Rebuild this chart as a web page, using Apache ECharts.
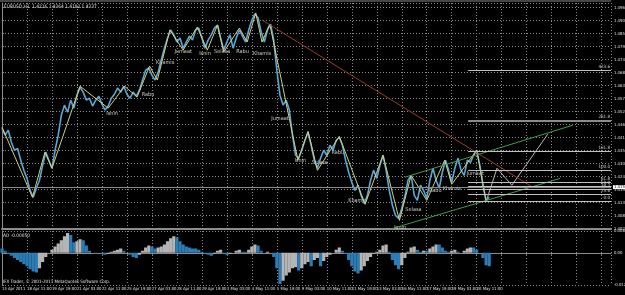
<!DOCTYPE html>
<html>
<head>
<meta charset="utf-8">
<script src="https://cdn.jsdelivr.net/npm/echarts@6/dist/echarts.min.js"></script>
<style>html,body{margin:0;padding:0;background:#000;} #chart{width:625px;height:295px;}</style>
</head>
<body>
<div id="chart"></div>
<script>
// EURUSD H1 - one close read every 4 bars
var closes = [
  1.4449, 1.4420, 1.4441, 1.4390, 1.4356, 1.4364, 1.4314, 1.4271, 1.4237, 1.4186,
  1.4157, 1.4195, 1.4229, 1.4292, 1.4348, 1.4314, 1.4280, 1.4356, 1.4420, 1.4504,
  1.4547, 1.4517, 1.4568, 1.4534, 1.4589, 1.4623, 1.4602, 1.4568, 1.4576, 1.4543,
  1.4568, 1.4585, 1.4551, 1.4526, 1.4543, 1.4576, 1.4593, 1.4619, 1.4602, 1.4627,
  1.4593, 1.4576, 1.4602, 1.4585, 1.4610, 1.4653, 1.4695, 1.4704, 1.4674, 1.4653,
  1.4687, 1.4738, 1.4788, 1.4831, 1.4865, 1.4844, 1.4814, 1.4831, 1.4788, 1.4814,
  1.4839, 1.4822, 1.4865, 1.4873, 1.4831, 1.4788, 1.4822, 1.4844, 1.4873, 1.4886,
  1.4831, 1.4780, 1.4814, 1.4844, 1.4788, 1.4831, 1.4865, 1.4839, 1.4814, 1.4865,
  1.4907, 1.4933, 1.4916, 1.4856, 1.4814, 1.4865, 1.4890, 1.4822, 1.4695, 1.4589,
  1.4547, 1.4568, 1.4526, 1.4420, 1.4335, 1.4322, 1.4356, 1.4398, 1.4432, 1.4377,
  1.4314, 1.4280, 1.4322, 1.4356, 1.4335, 1.4377, 1.4356, 1.4398, 1.4411, 1.4377,
  1.4314, 1.4263, 1.4220, 1.4186, 1.4208, 1.4165, 1.4131, 1.4165, 1.4229, 1.4271,
  1.4237, 1.4292, 1.4335, 1.4271, 1.4186, 1.4123, 1.4080, 1.4068, 1.4110, 1.4161,
  1.4229, 1.4250, 1.4165, 1.4144, 1.4208, 1.4186, 1.4152, 1.4229, 1.4280, 1.4229,
  1.4195, 1.4263, 1.4314, 1.4271, 1.4220, 1.4280, 1.4322, 1.4271, 1.4250, 1.4314,
  1.4305, 1.4335, 1.4356, 1.4292, 1.4208, 1.4144, 1.4157
];

// Awesome Oscillator, same 4-bar steps
var aoValues = [
  0.0017, 0.0008, -0.0004, -0.0012, -0.0021, -0.0029, -0.0037, -0.0046, -0.0054, -0.0066,
  -0.0075, -0.0079, -0.0062, -0.0037, -0.0017, 0.0000, 0.0012, 0.0025, 0.0037, 0.0050,
  0.0066, 0.0079, 0.0071, 0.0042, 0.0046, 0.0054, 0.0050, 0.0029, 0.0008, 0.0000,
  -0.0004, 0.0000, -0.0004, -0.0008, -0.0004, 0.0004, 0.0008, 0.0012, 0.0017, 0.0008,
  0.0000, -0.0008, -0.0017, -0.0021, -0.0008, 0.0008, 0.0021, 0.0029, 0.0025, 0.0017,
  0.0021, 0.0025, 0.0033, 0.0046, 0.0058, 0.0066, 0.0062, 0.0046, 0.0033, 0.0025,
  0.0021, 0.0017, 0.0017, 0.0012, 0.0004, -0.0004, -0.0008, -0.0012, -0.0004, 0.0008,
  0.0012, -0.0004, -0.0008, -0.0004, 0.0000, 0.0008, 0.0012, 0.0004, 0.0004, 0.0012,
  0.0025, 0.0033, 0.0029, 0.0008, 0.0000, 0.0004, 0.0000, -0.0017, -0.0062, -0.0125,
  -0.0112, -0.0091, -0.0079, -0.0062, -0.0058, -0.0071, -0.0062, -0.0046, -0.0037, -0.0054,
  -0.0029, -0.0021, -0.0054, -0.0033, -0.0017, -0.0008, 0.0000, 0.0012, 0.0021, 0.0008,
  -0.0004, -0.0029, -0.0054, -0.0075, -0.0083, -0.0071, -0.0054, -0.0033, -0.0017, -0.0004,
  0.0004, 0.0012, 0.0029, 0.0033, 0.0004, -0.0029, -0.0050, -0.0066, -0.0050, -0.0021,
  0.0004, 0.0021, 0.0025, 0.0012, 0.0004, 0.0008, 0.0008, 0.0017, 0.0025, 0.0033,
  0.0033, 0.0021, 0.0008, 0.0004, 0.0008, 0.0012, 0.0004, 0.0000, 0.0008, 0.0017,
  0.0021, 0.0021, 0.0012, 0.0000, -0.0021, -0.0050, -0.0054
];

// one label every 32 bars
var timeLabels = ['15 Apr 2011', '18 Apr 11:00', '19 Apr 19:00', '21 Apr 03:00', '22 Apr 11:00',
  '25 Apr 19:00', '27 Apr 03:00', '28 Apr 11:00', '29 Apr 19:00', '3 May 03:00', '4 May 11:00',
  '5 May 19:00', '9 May 03:00', '10 May 11:00', '11 May 19:00', '13 May 03:00', '16 May 11:00',
  '17 May 19:00', '19 May 03:00', '20 May 11:00'];

// swing points [bar, price]
var zigzag = [[0, 1.4454], [39, 1.4157], [55, 1.4348], [64, 1.4280], [100, 1.4627], [136, 1.4534],
  [157, 1.4627], [173, 1.4581], [189, 1.4712], [199, 1.4653], [215, 1.4865], [232, 1.4780],
  [250, 1.4877], [263, 1.4780], [276, 1.4886], [284, 1.4772], [304, 1.4873], [314, 1.4814],
  [325, 1.4937], [333, 1.4814], [343, 1.4890], [379, 1.4314], [392, 1.4436], [404, 1.4271],
  [432, 1.4415], [465, 1.4127], [488, 1.4335], [509, 1.4059], [524, 1.4250], [544, 1.4144],
  [567, 1.4314], [576, 1.4212], [608, 1.4356], [620, 1.4140]];

var dayLabels = [[141, 1.4513, 'Isnin'], [187, 1.4593, 'Rabu'], [209, 1.4725, 'Khamis'],
  [232, 1.4772, 'Jumaat'], [260, 1.4767, 'Isnin'], [282, 1.4772, 'Selasa'], [308, 1.4772, 'Rabu'],
  [333, 1.4763, 'Khamis'], [356, 1.4492, 'Jumaat'], [382, 1.4314, 'Isnin'], [407, 1.4305, 'Selasa'],
  [430, 1.4348, 'Rabu'], [455, 1.4144, 'Khamis'], [510, 1.4030, 'Isnin'], [527, 1.4106, 'Selasa'],
  [555, 1.4186, 'Rabu'], [576, 1.4195, 'Khamis'], [606, 1.4258, 'Jumaat']];

var fibLevels = [0, 23.6, 38.2, 50, 61.8, 100, 161.8, 261.8, 423.6];
var fibLow = 1.4140, fibHigh = 1.4271;
var redTrend = [[333, 1.4907], [680, 1.4199]];
var channelTop = [[516, 1.4242], [731, 1.4462]];
var channelBottom = [[500, 1.4025], [715, 1.4237]];
var projection = [[621, 1.4148], [634, 1.4280], [653, 1.4208], [699, 1.4424]];

var chart = echarts.init(document.getElementById('chart'));

var font = '"Liberation Sans Narrow", "DejaVu Sans Condensed", "Liberation Sans", sans-serif';
var dotted = {color: '#8a8a8a', type: [1, 2], width: 1};
var last = closes[closes.length - 1];

function byBar(arr) {
  return arr.map(function (v, i) { return [i * 4, v]; });
}

var fibLines = fibLevels.map(function (lvl) {
  var p = fibLow + (fibHigh - fibLow) * lvl / 100;
  var thick = lvl === 261.8;
  return [{
    coord: [597, p],
    lineStyle: {color: thick ? '#8c8c8c' : '#c0c0c0', width: thick ? 2 : 1, type: 'solid'},
    label: {show: true, position: 'insideEndTop', formatter: lvl.toFixed(1), color: '#d0d0d0',
      fontSize: 4.5, fontFamily: font, distance: 1}
  }, {coord: [780, p]}];
});

var option = {
  backgroundColor: '#000',
  animation: false,
  grid: [
    {left: 2, right: 14, top: 3, height: 225.5, outerBoundsMode: 'none', containLabel: false},
    {left: 2, right: 14, top: 231, height: 54, outerBoundsMode: 'none', containLabel: false}
  ],
  xAxis: [{
    type: 'value', gridIndex: 0, min: 0, max: 780, interval: 32,
    axisLine: {show: true, lineStyle: {color: '#8c8c8c', width: 2}},
    axisTick: {show: false}, axisLabel: {show: false},
    splitLine: {show: true, lineStyle: dotted}
  }, {
    type: 'value', gridIndex: 1, min: 0, max: 780, interval: 32,
    axisLine: {show: true, lineStyle: {color: '#8c8c8c', width: 1}},
    axisTick: {show: true, length: 2, lineStyle: {color: '#8c8c8c'}},
    splitLine: {show: true, lineStyle: dotted},
    axisLabel: {
      color: '#e0e0e0', fontSize: 4.2, fontFamily: font, align: 'left', margin: 2,
      showMinLabel: true, showMaxLabel: false, hideOverlap: false,
      formatter: function (v) { return timeLabels[v / 32] || ''; }
    }
  }],
  yAxis: [{
    type: 'value', gridIndex: 0, position: 'right', min: 1.4025, max: 1.4979, interval: 0.0055,
    axisLine: {show: true, lineStyle: {color: '#8c8c8c'}},
    axisTick: {show: true, length: 2, lineStyle: {color: '#8c8c8c'}},
    splitLine: {show: true, lineStyle: dotted},
    axisLabel: {
      color: '#e0e0e0', fontSize: 4.2, fontFamily: font, margin: 3, showMaxLabel: false,
      formatter: function (v) { return v.toFixed(4); }
    }
  }, {
    type: 'value', gridIndex: 1, position: 'right', min: -0.0129, max: 0.0087, interval: 0.0129,
    axisLine: {show: true, lineStyle: {color: '#8c8c8c'}},
    axisTick: {show: true, length: 2, lineStyle: {color: '#8c8c8c'}},
    splitLine: {show: true, lineStyle: dotted},
    axisLabel: {
      color: '#e0e0e0', fontSize: 4.2, fontFamily: font, margin: 3,
      formatter: function (v) {
        if (v === 0) return '0.00';
        return v > 0 ? v.toFixed(5) : v.toFixed(4);
      }
    }
  }],
  graphic: [
    {type: 'line', shape: {x1: 0, y1: 1, x2: 611, y2: 1}, style: {stroke: '#8c8c8c', lineWidth: 1}},
    {type: 'text', left: 4, top: 4, style: {text: 'EURUSD,H1  1.4216 1.4264 1.4182 1.4237', fill: '#e0e0e0', fontSize: 4.8, fontFamily: font}},
    {type: 'text', left: 3, top: 233, style: {text: 'AO -0.00050', fill: '#e0e0e0', fontSize: 4.8, fontFamily: font}},
    {type: 'text', left: 3, top: 279, style: {text: 'IFX Trader, \u00a9 2001-2011 MetaQuotes Software Corp.', fill: '#e0e0e0', fontSize: 4.5, fontFamily: font}}
  ],
  series: [{
    name: 'price', type: 'line', xAxisIndex: 0, yAxisIndex: 0,
    data: byBar(closes), symbol: 'none',
    lineStyle: {color: '#5aa6d6', width: 1.6},
    markLine: {
      silent: true, symbol: ['none', 'none'],
      data: [{
        yAxis: last,
        lineStyle: {color: '#8c8c8c', width: 1, type: 'solid'},
        label: {show: true, position: 'end', distance: 2, formatter: last.toFixed(4),
          color: '#000', backgroundColor: '#fff', fontSize: 4.2, fontFamily: font, padding: [0, 1]}
      }].concat(fibLines)
    }
  }, {
    name: 'zigzag', type: 'line', xAxisIndex: 0, yAxisIndex: 0,
    data: zigzag, symbol: 'none',
    lineStyle: {color: '#cfcf7c', width: 1}
  }, {
    name: 'trend', type: 'line', xAxisIndex: 0, yAxisIndex: 0,
    data: redTrend, symbol: 'none',
    lineStyle: {color: '#9c3b2b', width: 1}
  }, {
    name: 'channelTop', type: 'line', xAxisIndex: 0, yAxisIndex: 0,
    data: channelTop, symbol: 'none',
    lineStyle: {color: '#3f9c4c', width: 1}
  }, {
    name: 'channelBottom', type: 'line', xAxisIndex: 0, yAxisIndex: 0,
    data: channelBottom, symbol: 'none',
    lineStyle: {color: '#3f9c4c', width: 1}
  }, {
    name: 'projection', type: 'lines', coordinateSystem: 'cartesian2d', xAxisIndex: 0, yAxisIndex: 0,
    polyline: true, symbol: ['none', 'arrow'], symbolSize: 5,
    lineStyle: {color: '#b8b8b8', width: 1, opacity: 1},
    data: [{coords: projection}]
  }, {
    name: 'days', type: 'scatter', xAxisIndex: 0, yAxisIndex: 0,
    data: dayLabels, symbolSize: 0,
    label: {show: true, position: 'inside', color: '#f0f0f0', fontSize: 5.5, fontFamily: font,
      formatter: function (p) { return p.value[2]; }}
  }, {
    name: 'AO', type: 'bar', xAxisIndex: 1, yAxisIndex: 1,
    data: byBar(aoValues), barWidth: 3.2,
    itemStyle: {
      color: function (p) {
        var i = p.dataIndex;
        return i > 0 && aoValues[i] > aoValues[i - 1] ? '#b4b4b4' : '#2b7db5';
      }
    }
  }]
};

chart.setOption(option);
</script>
</body>
</html>
